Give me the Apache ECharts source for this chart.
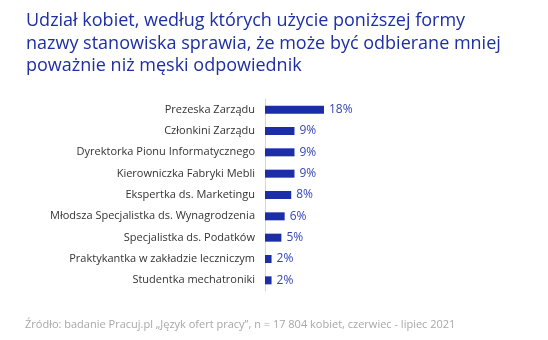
<!DOCTYPE html>
<html><head><meta charset="utf-8">
<script src="https://cdn.jsdelivr.net/npm/echarts@6/dist/echarts.min.js"></script>
<style>html,body{margin:0;padding:0;background:#fff}#c{width:548px;height:340px}</style>
</head><body><div id="c"></div>
<script>
const titleText = "Udział kobiet, według których użycie poniższej formy\nnazwy stanowiska sprawia, że może być odbierane mniej\npoważnie niż męski odpowiednik";
const sourceText = "Źródło: badanie Pracuj.pl „Język ofert pracy”, n = 17 804 kobiet, czerwiec - lipiec 2021";
const categories = ["Prezeska Zarządu","Członkini Zarządu","Dyrektorka Pionu Informatycznego","Kierowniczka Fabryki Mebli","Ekspertka ds. Marketingu","Młodsza Specjalistka ds. Wynagrodzenia","Specjalistka ds. Podatków","Praktykantka w zakładzie leczniczym","Studentka mechatroniki"];
const values = [18,9,9,9,8,6,5,2,2];

const chart = echarts.init(document.getElementById('c'), null, {renderer:'canvas'});
chart.setOption({
  animation:false,
  backgroundColor:'#fff',
  title:[{
    text:titleText, left:21, top:5,
    textStyle:{fontFamily:'Open Sans', fontSize:18, fontWeight:'normal', color:'#1e2fa5', lineHeight:22.5}
  },{
    text:sourceText, left:20, top:314,
    textStyle:{fontFamily:'Open Sans', fontSize:11, fontWeight:'normal', color:'#a8a8a8'}
  }],
  grid:{left:265, top:99, width:98.3, height:192, containLabel:false},
  xAxis:{type:'value', min:0, max:30, show:false},
  yAxis:{type:'category', data:categories, inverse:true,
    axisLine:{show:true, lineStyle:{color:'#d6d6d6', width:1}},
    axisTick:{show:false},
    axisLabel:{fontFamily:'Open Sans', fontSize:11, color:'#333', margin:10}
  },
  series:[{
    type:'bar', data:values, barWidth:8,
    itemStyle:{color:'#1b2ea6'},
    label:{show:true, position:'right', distance:5, formatter:'{c}%',
      fontFamily:'Open Sans', fontSize:12, color:'#3545b5'}
  }]
});
</script></body></html>
